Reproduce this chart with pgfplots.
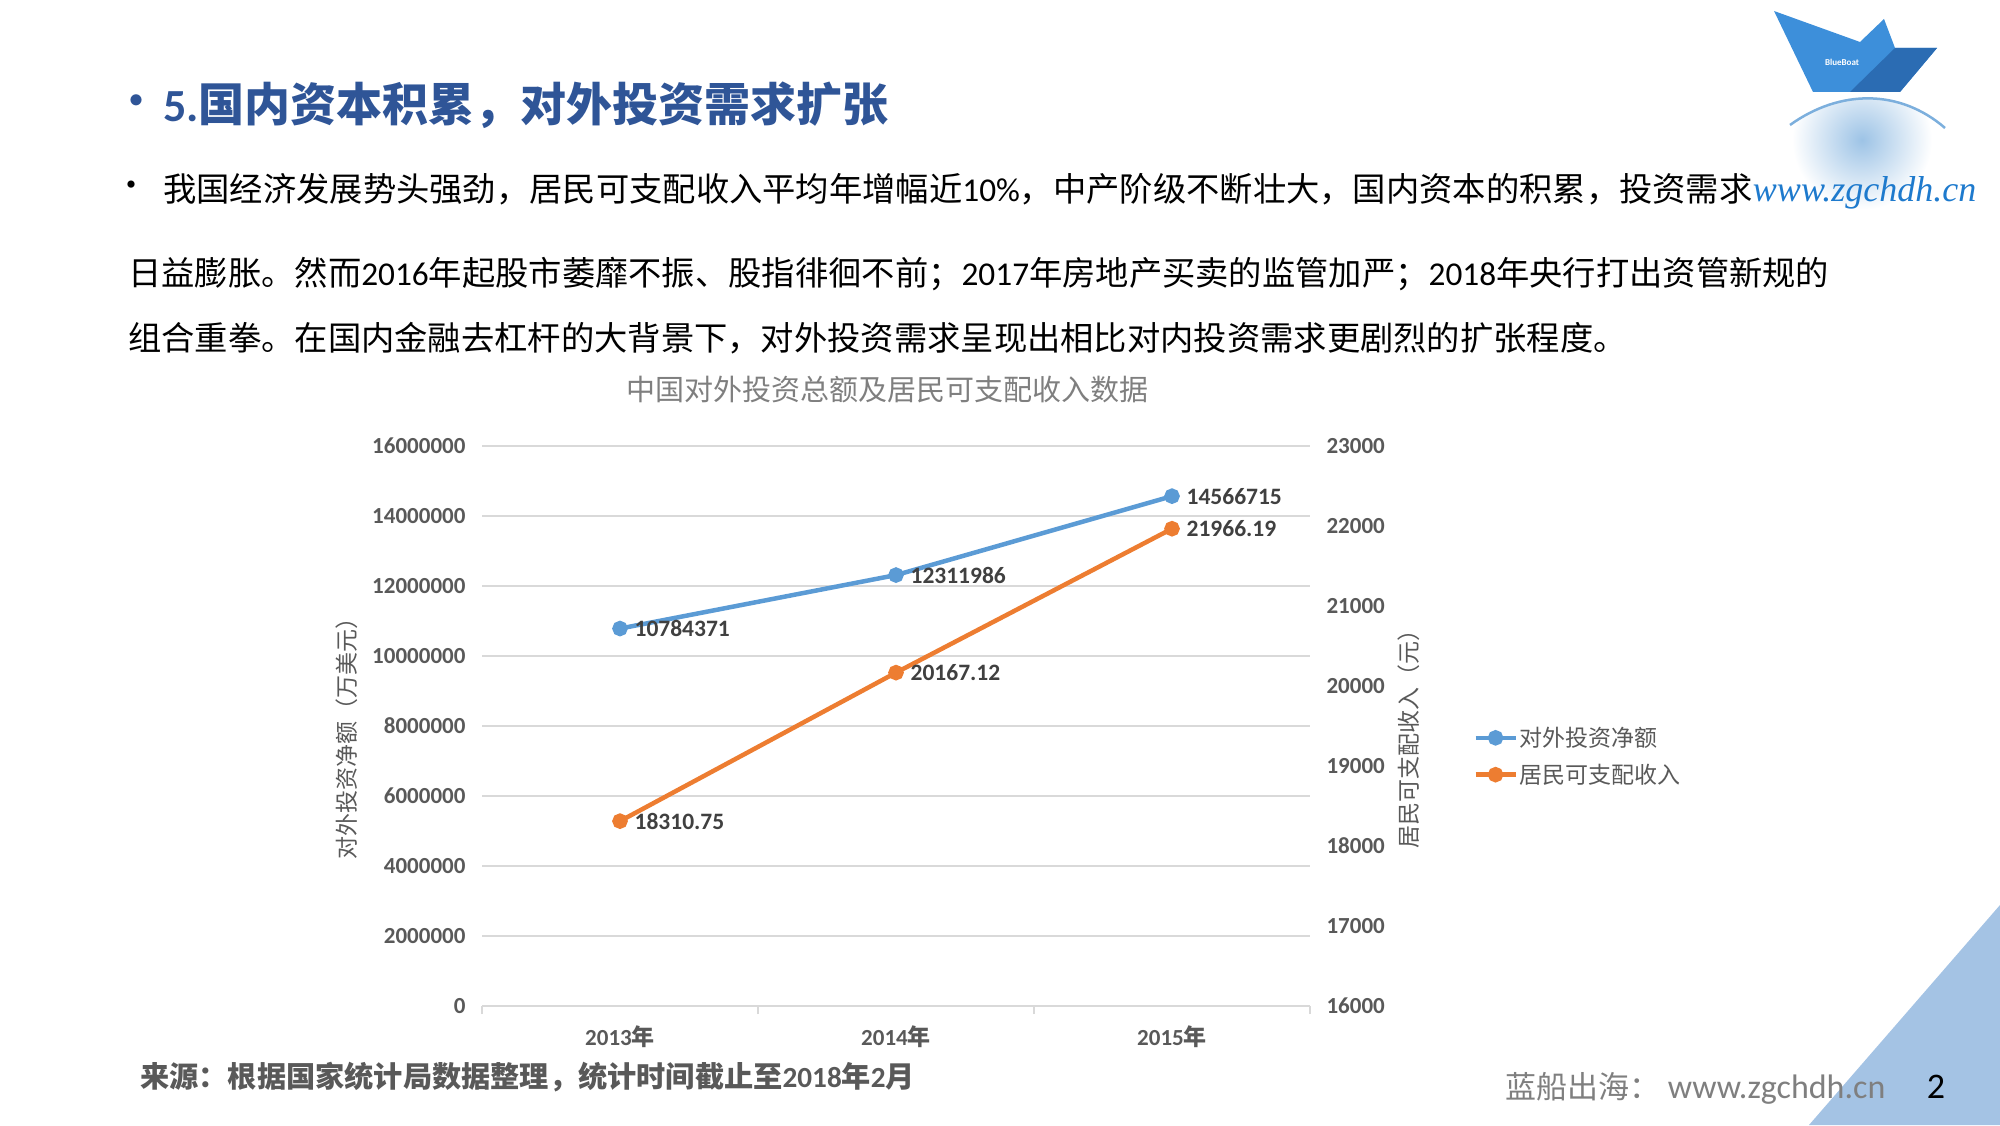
\documentclass[border=0pt]{standalone}
\usepackage{fontspec}
\setmainfont{Noto Sans CJK SC}
\newfontfamily\lat{Carlito}
\newfontfamily\serif{Liberation Serif}
\usepackage{pgfplots}
\pgfplotsset{compat=1.18}
\definecolor{sblue}{HTML}{5B9BD5}
\definecolor{sorange}{HTML}{ED7D31}
\definecolor{tgray}{HTML}{595959}
\definecolor{dgray}{HTML}{404040}
\definecolor{lgray}{HTML}{7F7F7F}
\definecolor{gridc}{HTML}{D9D9D9}
\definecolor{ttl}{HTML}{2F5597}
\definecolor{tri}{HTML}{A4C3E4}
\definecolor{boat}{HTML}{3D8FDA}
\definecolor{boatd}{HTML}{2B6CB3}
\definecolor{web}{HTML}{1E7ACD}
\newcommand\fs[1]{\fontsize{#1}{#1}\selectfont}

\begin{document}
\begin{tikzpicture}[x=1pt,y=1pt]
\useasboundingbox (0,0) rectangle (2000,1125);

% decoration: corner triangle and logo
\fill[tri] (2000,220) -- (2000,0) -- (1809,0) -- cycle;
\begin{scope}
  \clip (1790,1000) .. controls (1840,1036) and (1900,1036) .. (1945,997) -- (1945,900) -- (1790,900) -- cycle;
  \shade[inner color=sblue!60, outer color=white] (1862,985) circle (70);
\end{scope}
\draw[sblue!80, line width=2.5] (1790,1000) .. controls (1840,1036) and (1900,1036) .. (1945,997);
\fill[boat] (1774,1114) -- (1860,1083) -- (1884,1106) -- (1895,1077) -- (1937,1077) -- (1900,1033) -- (1813,1033) -- cycle;
\fill[boatd] (1895,1077) -- (1937,1077) -- (1900,1033) -- (1850,1033) -- cycle;
\node[text=white, font=\lat\bfseries\fs{9}] at (1842,1063) {BlueBoat};

% slide title and text
\node[text=ttl, font=\fs{40}\bfseries, inner sep=0] at (136,1020) {•};
\node[anchor=west, inner sep=0, text=ttl, font=\fs{46}\bfseries] at (163,1020) {{\lat 5.}国内资本积累，对外投资需求扩张};
\node[inner sep=0, font=\fs{34}] at (131,936) {•};
\node[anchor=west, inner sep=0, font=\fs{33.3}] (l1) at (163,936) {我国经济发展势头强劲，居民可支配收入平均年增幅近{\lat 10\%}，中产阶级不断壮大，国内资本的积累，投资需求};
\node[anchor=base west, inner sep=0, text=web, font=\serif\itshape\fs{36}] at (l1.base east) {www.zgchdh.cn};
\node[anchor=west, inner sep=0, font=\fs{33.3}] at (128,851) {日益膨胀。然而{\lat 2016}年起股市萎靡不振、股指徘徊不前；{\lat 2017}年房地产买卖的监管加严；{\lat 2018}年央行打出资管新规的};
\node[anchor=west, inner sep=0, font=\fs{33.3}] at (128,787) {组合重拳。在国内金融去杠杆的大背景下，对外投资需求呈现出相比对内投资需求更剧烈的扩张程度。};

% chart title
\node[text=lgray, font=\fs{29}] at (887,735) {中国对外投资总额及居民可支配收入数据};

% left axis: outward investment
\begin{axis}[
  at={(482pt,119pt)}, anchor=south west,
  width=828pt, height=560pt, scale only axis,
  xmin=-0.5, xmax=2.5, ymin=0, ymax=16000000,
  ytick distance=2000000,
  scaled y ticks=false,
  xtick={0,1,2},
  xticklabels={{\lat 2013}年,{\lat 2014}年,{\lat 2015}年},
  minor xtick={-0.5,0.5,1.5,2.5},
  axis lines*=left,
  tick align=outside,
  major tick length=0pt,
  minor tick length=8pt,
  every minor tick/.style={draw=gridc, line width=1.5pt},
  y axis line style={draw=none},
  x axis line style={draw=gridc, line width=1.5pt},
  ymajorgrids,
  grid style={draw=gridc, line width=1.5pt},
  yticklabel style={font=\lat\bfseries\fs{23}, text=tgray, xshift=-13pt},
  xticklabel style={font=\bfseries\fs{23}, text=tgray, yshift=-16pt},
  /pgf/number format/.cd, fixed, 1000 sep={}, assume math mode=true,
  /pgfplots/.cd,
  ylabel={对外投资净额（万美元）},
  ylabel style={at={(axis description cs:-0.163,0.4875)}, anchor=center, font=\fs{23}, text=tgray},
  clip=false,
]
\addplot[sblue, line width=4.5pt, mark=*, mark size=5.5pt,
  nodes near coords, point meta=explicit symbolic,
  every node near coord/.style={anchor=west, xshift=9pt, font=\lat\bfseries\fs{23.5}, text=dgray}]
  coordinates {(0,10784371)[10784371] (1,12311986)[12311986] (2,14566715)[14566715]};
\end{axis}

% right axis: disposable income
\begin{axis}[
  at={(482pt,119pt)}, anchor=south west,
  width=828pt, height=560pt, scale only axis,
  xmin=-0.5, xmax=2.5, ymin=16000, ymax=23000,
  ytick distance=1000,
  scaled y ticks=false,
  axis x line=none,
  axis y line*=right,
  y axis line style={draw=none},
  tick align=outside,
  major tick length=0pt,
  yticklabel style={font=\lat\bfseries\fs{23}, text=tgray, xshift=13pt},
  /pgf/number format/.cd, fixed, 1000 sep={}, assume math mode=true,
  /pgfplots/.cd,
  ylabel={居民可支配收入（元）},
  ylabel style={at={(axis description cs:1.1196,0.4875)}, anchor=center, font=\fs{23}, text=tgray},
  legend style={at={(1.197,0.446)}, anchor=west, draw=none, fill=none,
    font=\fs{23}, text=tgray, row sep=12pt, inner sep=0pt},
  legend cell align=left,
  legend image code/.code={\draw[mark repeat=2, mark phase=2, #1] plot coordinates {(0pt,0pt) (20pt,0pt) (40pt,0pt)};},
  clip=false,
]
\addlegendimage{sblue, line width=4.5pt, mark=*, mark size=5.5pt}
\addlegendentry{对外投资净额}
\addplot[sorange, line width=4.5pt, mark=*, mark size=5.5pt,
  nodes near coords, point meta=explicit symbolic,
  every node near coord/.style={anchor=west, xshift=9pt, font=\lat\bfseries\fs{23.5}, text=dgray}]
  coordinates {(0,18310.75)[18310.75] (1,20167.12)[20167.12] (2,21966.19)[21966.19]};
\addlegendentry{居民可支配收入}
\end{axis}

% source and footer
\node[anchor=west, inner sep=0, font=\fs{29.2}\bfseries, text=tgray] at (140,48) {来源：根据国家统计局数据整理，统计时间截止至{\lat 2018}年{\lat 2}月};
\node[anchor=west, inner sep=0, font=\fs{31}, text=lgray] at (1505,37) {蓝船出海：{\lat\fs{34} www.zgchdh.cn}};
\node[font=\lat\fs{36}] at (1936,38) {2};
\end{tikzpicture}
\end{document}
